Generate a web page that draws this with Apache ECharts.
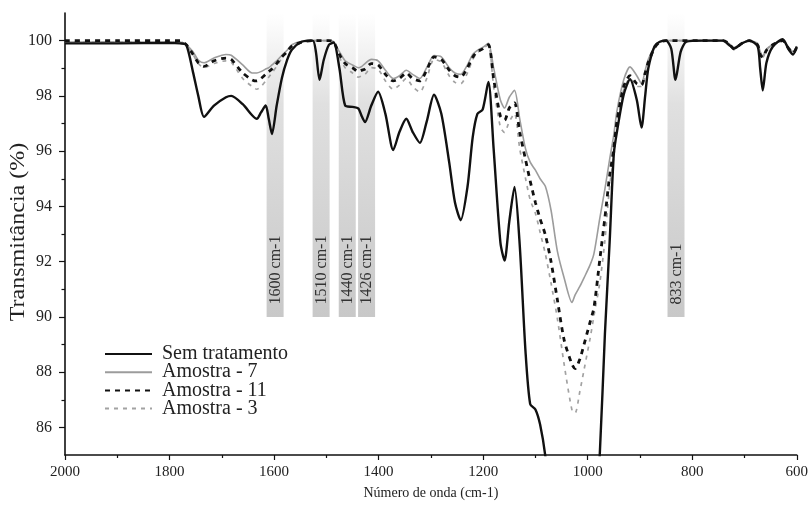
<!DOCTYPE html>
<html>
<head>
<meta charset="utf-8">
<script src="https://cdn.jsdelivr.net/npm/echarts@6/dist/echarts.min.js"></script>
<style>
  html, body { margin: 0; padding: 0; background: #fff; }
  #chart { width: 811px; height: 507px; }
</style>
</head>
<body>
<div id="chart"></div>
<script>
// FTIR spectra: transmittance (%) vs wavenumber (cm-1)
const wavenumber = [
  2000, 1900, 1800, 1780, 1768, 1755, 1745, 1734, 1715, 1692,
  1682, 1660, 1642, 1633, 1625, 1616, 1610, 1604, 1595, 1585,
  1575, 1566, 1547, 1526, 1520, 1513, 1505, 1495, 1486, 1475,
  1464, 1450, 1439, 1432, 1426, 1414, 1401, 1387, 1372, 1360,
  1347, 1335, 1321, 1308, 1294, 1280, 1265, 1254, 1243, 1230,
  1220, 1211, 1201, 1190, 1180, 1167, 1159, 1150, 1140, 1130,
  1119, 1110, 1100, 1091, 1081, 1070, 1058, 1045, 1030, 1024,
  1015, 1007, 995, 988, 977, 967, 958, 950, 944, 931,
  919, 906, 897, 890, 884, 872, 862, 850, 840, 832,
  822, 811, 780, 741, 730, 720, 705, 691, 675, 670,
  665, 658, 646, 627, 615, 607, 600
];

const semTratamento = [
  99.9, 99.9, 99.92, 99.9, 99.85, 98.85, 98.0, 97.24, 97.65, 97.95,
  98.0, 97.7, 97.3, 97.17, 97.4, 97.65, 97.15, 96.62, 97.65, 98.65,
  99.3, 99.67, 99.96, 100, 99.6, 98.58, 99.3, 99.85, 99.93, 99.0,
  97.65, 97.6, 97.55, 97.25, 97.05, 97.65, 98.15, 97.35, 96.04, 96.7,
  97.17, 96.7, 96.3, 97.07, 98.04, 97.35, 95.6, 94.15, 93.5, 94.7,
  96.5, 97.35, 97.5, 98.5, 96.1, 92.7, 92.04, 93.45, 94.7, 92.6,
  88.76, 86.84, 86.65, 86.1, 84.96, 83.0, 81.2, 80.0, 79.3, 79.2,
  79.3, 79.7, 80.8, 82.0, 84.96, 89.4, 92.7, 95.9, 96.7, 98.05,
  98.6, 97.85, 96.85, 98.0, 99.0, 99.8, 99.96, 100, 99.7, 98.58,
  99.6, 99.96, 100, 100, 99.85, 99.72, 99.9, 100, 99.8, 99.0,
  98.2, 99.2, 99.78, 100.05, 99.67, 99.5, 99.78
];

const amostra7 = [
  99.95, 99.95, 99.95, 99.95, 99.85, 99.6, 99.3, 99.2, 99.37, 99.5,
  99.47, 99.12, 98.83, 98.83, 98.88, 98.97, 99.02, 99.12, 99.27, 99.47,
  99.65, 99.85, 99.98, 100, 100, 100, 100, 100, 99.95, 99.6,
  99.27, 99.12, 99.02, 99.07, 99.17, 99.32, 99.27, 98.93, 98.63, 98.73,
  98.93, 98.78, 98.63, 99.02, 99.46, 99.41, 99.02, 98.83, 98.78, 99.12,
  99.5, 99.65, 99.75, 99.9, 99.02, 97.85, 97.56, 97.95, 98.2, 97.17,
  96.09, 95.6, 95.31, 95.0, 94.73, 93.85, 92.38, 91.41, 90.52, 90.8,
  91.1, 91.41, 91.9, 92.29, 93.55, 94.63, 95.7, 96.6, 97.46, 98.58,
  99.05, 98.73, 98.44, 98.92, 99.32, 99.78, 99.96, 100, 100, 100,
  100, 100, 100, 100, 99.9, 99.75, 99.9, 100, 99.9, 99.6,
  99.45, 99.7, 99.85, 100, 99.75, 99.6, 99.8
];

const amostra11 = [
  100, 100, 100, 100, 99.85, 99.5, 99.2, 99.07, 99.27, 99.37,
  99.32, 98.83, 98.58, 98.54, 98.63, 98.78, 98.88, 98.97, 99.17, 99.41,
  99.6, 99.8, 99.95, 100, 100, 100, 100, 100, 99.95, 99.5,
  99.17, 99.02, 98.88, 98.93, 98.97, 99.17, 99.12, 98.78, 98.54, 98.63,
  98.83, 98.63, 98.54, 98.93, 99.41, 99.32, 98.93, 98.73, 98.68, 99.02,
  99.4, 99.6, 99.7, 99.85, 98.63, 97.27, 97.12, 97.56, 97.75, 96.68,
  95.7, 94.92, 94.14, 93.55, 92.97, 91.99, 90.62, 89.16, 88.28, 88.13,
  88.47, 89.0, 89.84, 90.33, 92.04, 93.6, 95.1, 96.1, 97.07, 98.34,
  98.73, 98.44, 98.39, 98.83, 99.22, 99.75, 99.95, 100, 100, 100,
  100, 100, 100, 100, 99.9, 99.7, 99.9, 100, 99.85, 99.5,
  99.4, 99.65, 99.85, 100, 99.7, 99.55, 99.75
];

const amostra3 = [
  99.95, 99.95, 99.95, 99.95, 99.85, 99.5, 99.17, 99.02, 99.17, 99.27,
  99.22, 98.63, 98.34, 98.24, 98.34, 98.54, 98.68, 98.83, 99.07, 99.37,
  99.6, 99.8, 99.95, 100, 100, 100, 100, 100, 99.95, 99.41,
  99.02, 98.83, 98.68, 98.73, 98.78, 99.02, 98.97, 98.54, 98.24, 98.39,
  98.63, 98.34, 98.14, 98.63, 99.32, 99.22, 98.73, 98.49, 98.44, 98.83,
  99.32, 99.56, 99.7, 99.85, 98.34, 96.87, 96.68, 97.07, 97.36, 96.09,
  95.02, 94.24, 93.75, 93.06, 92.28, 91.21, 89.94, 88.28, 86.62, 86.52,
  87.3, 88.08, 89.26, 90.04, 91.21, 92.77, 94.73, 95.8, 96.87, 98.24,
  98.63, 98.34, 98.34, 98.73, 99.12, 99.7, 99.95, 100, 100, 100,
  100, 100, 100, 100, 99.9, 99.7, 99.9, 100, 99.85, 99.5,
  99.4, 99.65, 99.85, 100, 99.7, 99.55, 99.75
];

// Marked absorption bands: label text and the wavenumber where each band is drawn
const bandLabels = ['1600 cm-1', '1510 cm-1', '1440 cm-1', '1426 cm-1', '833 cm-1'];
const bandPositions = [1598, 1510, 1460, 1423, 831];

const yMajorTicks = [86, 88, 90, 92, 94, 96, 98, 100];
const yMinorTicks = [87, 89, 91, 93, 95, 97, 99];
const xTicks = [2000, 1800, 1600, 1400, 1200, 1000, 800, 600];

const FONT = "'Liberation Serif', 'Times New Roman', serif";
const pairs = (vals) => wavenumber.map((w, i) => [w, vals[i]]);

const chart = echarts.init(document.getElementById('chart'), null, { renderer: 'canvas' });

chart.setOption({
  animation: false,
  backgroundColor: '#ffffff',
  grid: { left: 65, right: 10, top: 13, bottom: 52 },
  xAxis: {
    type: 'value',
    inverse: true,
    min: 600,
    max: 2000,
    interval: 200,
    name: 'Número de onda (cm-1)',
    nameLocation: 'middle',
    nameGap: 31,
    nameTextStyle: { fontFamily: FONT, fontSize: 14, color: '#222' },
    axisLine: { show: true, onZero: false, lineStyle: { color: '#111', width: 1.6 } },
    axisTick: { show: true, inside: false, length: 5, lineStyle: { color: '#111', width: 1.2 } },
    minorTick: { show: true, splitNumber: 2, length: 3, lineStyle: { color: '#111', width: 1.2 } },
    axisLabel: {
      fontFamily: FONT, fontSize: 15, color: '#222', margin: 10,
      formatter: (v) => (xTicks.indexOf(v) >= 0 ? String(v) : '')
    },
    splitLine: { show: false },
    minorSplitLine: { show: false }
  },
  yAxis: [
    {
      type: 'value',
      min: 85,
      max: 101,
      position: 'left',
      axisLine: { show: true, onZero: false, lineStyle: { color: '#111', width: 1.6 } },
      axisTick: { show: true, inside: false, length: 6, customValues: yMajorTicks, lineStyle: { color: '#111', width: 1.2 } },
      axisLabel: { fontFamily: FONT, fontSize: 16, color: '#222', margin: 13, customValues: yMajorTicks },
      splitLine: { show: false }
    },
    {
      type: 'value',
      min: 85,
      max: 101,
      position: 'left',
      axisLine: { show: false },
      axisTick: { show: true, inside: false, length: 3.5, customValues: yMinorTicks, lineStyle: { color: '#111', width: 1.2 } },
      axisLabel: { show: false },
      splitLine: { show: false }
    }
  ],
  legend: {
    orient: 'vertical',
    left: 99,
    top: 339,
    itemWidth: 47,
    itemHeight: 12,
    itemGap: -1.8,
    selectedMode: false,
    // legend keys show only the line style, no point marker
    itemStyle: { opacity: 0 },
    textStyle: { fontFamily: FONT, fontSize: 20, color: '#222', lineHeight: 16, padding: [0, 0, 0, 5] },
    data: ['Sem tratamento', 'Amostra - 7', 'Amostra - 11', 'Amostra - 3']
  },
  graphic: [
    {
      type: 'text',
      x: 19,
      y: 232,
      rotation: Math.PI / 2,
      scaleX: 1.2,
      style: {
        text: 'Transmitância (%)',
        fontFamily: FONT,
        fontSize: 20,
        fill: '#222',
        align: 'center',
        verticalAlign: 'middle'
      }
    }
  ],
  series: [
    {
      type: 'custom',
      name: 'bands',
      z: 1,
      silent: true,
      data: bandPositions.map((w, i) => [w, i]),
      encode: { x: 0 },
      renderItem: function (params, api) {
        const w = api.value(0);
        const idx = api.value(1);
        const bottom = api.coord([w, 90]);
        const top = api.coord([w, 101]);
        const textAnchor = api.coord([w, 90.45]);
        return {
          type: 'group',
          children: [
            {
              type: 'rect',
              shape: { x: bottom[0] - 8.5, y: top[1], width: 17, height: bottom[1] - top[1] },
              style: {
                fill: new echarts.graphic.LinearGradient(0, 0, 0, 1, [
                  { offset: 0, color: 'rgba(226,226,226,0)' },
                  { offset: 0.3, color: 'rgba(224,224,224,1)' },
                  { offset: 1, color: 'rgba(200,200,200,1)' }
                ])
              }
            },
            {
              type: 'text',
              x: textAnchor[0] + 0.5,
              y: textAnchor[1],
              rotation: Math.PI / 2,
              style: {
                text: bandLabels[idx],
                fontFamily: FONT,
                fontSize: 16,
                fill: '#333',
                align: 'left',
                verticalAlign: 'middle'
              }
            }
          ]
        };
      }
    },
    {
      name: 'Amostra - 3',
      type: 'line',
      z: 3,
      data: pairs(amostra3),
      showSymbol: false,
      symbol: 'none',
      smooth: 0.25,
      lineStyle: { color: '#a2a2a2', width: 1.7, type: [4, 5] },
      itemStyle: { color: '#a2a2a2' }
    },
    {
      name: 'Amostra - 7',
      type: 'line',
      z: 3,
      data: pairs(amostra7),
      showSymbol: false,
      symbol: 'none',
      smooth: 0.25,
      lineStyle: { color: '#9c9c9c', width: 1.6 },
      itemStyle: { color: '#9c9c9c' }
    },
    {
      name: 'Amostra - 11',
      type: 'line',
      z: 4,
      data: pairs(amostra11),
      showSymbol: false,
      symbol: 'none',
      smooth: 0.25,
      lineStyle: { color: '#111', width: 2.8, type: [5, 5] },
      itemStyle: { color: '#111' }
    },
    {
      name: 'Sem tratamento',
      type: 'line',
      z: 5,
      data: pairs(semTratamento),
      showSymbol: false,
      symbol: 'none',
      smooth: 0.25,
      lineStyle: { color: '#111', width: 2.4 },
      itemStyle: { color: '#111' }
    }
  ]
});
</script>
</body>
</html>
